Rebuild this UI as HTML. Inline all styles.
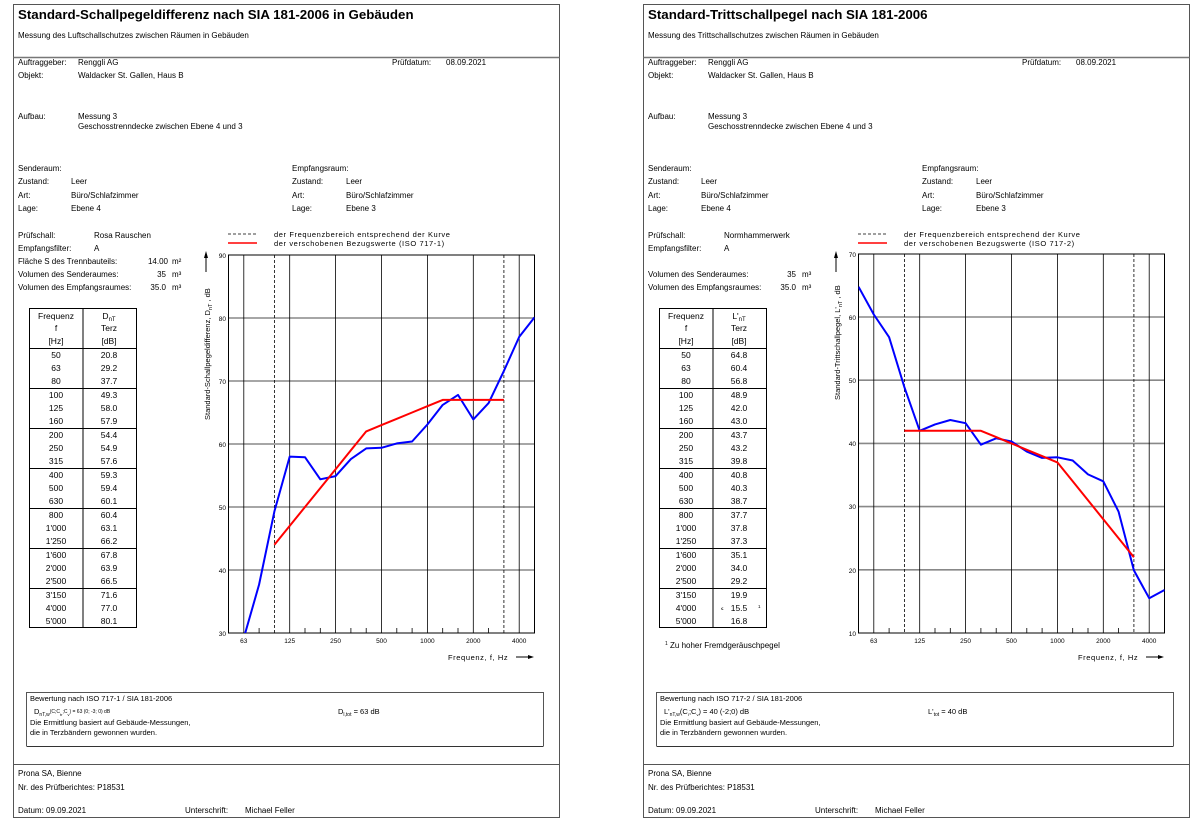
<!DOCTYPE html>
<html><head><meta charset="utf-8"><style>
html,body{margin:0;padding:0;background:#fff}
svg{display:block;font-family:"Liberation Sans",Arial,sans-serif}
text{font-size:8px;fill:#000}
.t{font-size:13.3px;font-weight:bold}
.tk{font-size:6.5px}
.lg{font-size:7.5px;letter-spacing:0.6px}
.tb{font-size:8.5px}
</style></head><body>
<svg width="1200" height="822" viewBox="0 0 1200 822">
<defs>
<clipPath id="cl"><rect x="228.5" y="255" width="306" height="378"/></clipPath>
<clipPath id="cr"><rect x="858.5" y="254" width="306" height="379"/></clipPath>
</defs>

<!-- LEFT PAGE -->
<rect x="13.5" y="4.5" width="546" height="813" fill="none" stroke="#555" stroke-width="1"/>
<line x1="13.5" y1="57.5" x2="559.5" y2="57.5" stroke="#777" stroke-width="1.5"/>
<text x="18" y="19" class="t">Standard-Schallpegeldifferenz nach SIA 181-2006 in Gebäuden</text>
<text x="18" y="38">Messung des Luftschallschutzes zwischen Räumen in Gebäuden</text>
<text x="18" y="65">Auftraggeber:</text><text x="78" y="65">Renggli AG</text>
<text x="392" y="65">Prüfdatum:</text><text x="446" y="65">08.09.2021</text>
<text x="18" y="78">Objekt:</text><text x="78" y="78">Waldacker St. Gallen, Haus B</text>
<text x="18" y="119">Aufbau:</text><text x="78" y="119">Messung 3</text>
<text x="78" y="129">Geschosstrenndecke zwischen Ebene 4 und 3</text>
<text x="18" y="171">Senderaum:</text>
<text x="18" y="184">Zustand:</text><text x="71" y="184">Leer</text>
<text x="18" y="198">Art:</text><text x="71" y="198">Büro/Schlafzimmer</text>
<text x="18" y="211">Lage:</text><text x="71" y="211">Ebene 4</text>
<text x="292" y="171">Empfangsraum:</text>
<text x="292" y="184">Zustand:</text><text x="346" y="184">Leer</text>
<text x="292" y="198">Art:</text><text x="346" y="198">Büro/Schlafzimmer</text>
<text x="292" y="211">Lage:</text><text x="346" y="211">Ebene 3</text>
<text x="18" y="238">Prüfschall:</text><text x="94" y="238">Rosa Rauschen</text>
<text x="18" y="251">Empfangsfilter:</text><text x="94" y="251">A</text>
<text x="18" y="264">Fläche S des Trennbauteils:</text><text x="168" y="264" text-anchor="end">14.00</text><text x="172" y="264">m²</text>
<text x="18" y="277">Volumen des Senderaumes:</text><text x="166" y="277" text-anchor="end">35</text><text x="172" y="277">m³</text>
<text x="18" y="290">Volumen des Empfangsraumes:</text><text x="166" y="290" text-anchor="end">35.0</text><text x="172" y="290">m³</text>

<!-- legend -->
<line x1="228" y1="234" x2="257" y2="234" stroke="#000" stroke-width="0.8" stroke-dasharray="3,2"/>
<line x1="228" y1="243" x2="257" y2="243" stroke="#f00" stroke-width="1.5"/>
<text x="274" y="237" class="lg">der Frequenzbereich entsprechend der Kurve</text>
<text x="274" y="246" class="lg">der verschobenen Bezugswerte (ISO 717-1)</text>

<!-- table left -->
<g stroke="#000" stroke-width="1" fill="none">
<rect x="29.5" y="308.5" width="107" height="319"/>
<line x1="83" y1="308.5" x2="83" y2="627.5"/>
<line x1="29.5" y1="348.5" x2="136.5" y2="348.5"/>
<line x1="29.5" y1="388.5" x2="136.5" y2="388.5"/>
<line x1="29.5" y1="428.5" x2="136.5" y2="428.5"/>
<line x1="29.5" y1="468.5" x2="136.5" y2="468.5"/>
<line x1="29.5" y1="508.5" x2="136.5" y2="508.5"/>
<line x1="29.5" y1="548.5" x2="136.5" y2="548.5"/>
<line x1="29.5" y1="588.5" x2="136.5" y2="588.5"/>
</g>
<g class="tb" text-anchor="middle">
<text x="56" y="319" class="tb">Frequenz</text><text x="56" y="331" class="tb">f</text><text x="56" y="344" class="tb">[Hz]</text>
<text x="109" y="319" class="tb">D<tspan font-size="6" dy="2">nT</tspan></text><text x="109" y="331" class="tb">Terz</text><text x="109" y="344" class="tb">[dB]</text>
</g>
<g text-anchor="middle">
<text x="56" y="358" class="tb">50</text><text x="109" y="358" class="tb">20.8</text>
<text x="56" y="371" class="tb">63</text><text x="109" y="371" class="tb">29.2</text>
<text x="56" y="384" class="tb">80</text><text x="109" y="384" class="tb">37.7</text>
<text x="56" y="398" class="tb">100</text><text x="109" y="398" class="tb">49.3</text>
<text x="56" y="411" class="tb">125</text><text x="109" y="411" class="tb">58.0</text>
<text x="56" y="424" class="tb">160</text><text x="109" y="424" class="tb">57.9</text>
<text x="56" y="438" class="tb">200</text><text x="109" y="438" class="tb">54.4</text>
<text x="56" y="451" class="tb">250</text><text x="109" y="451" class="tb">54.9</text>
<text x="56" y="464" class="tb">315</text><text x="109" y="464" class="tb">57.6</text>
<text x="56" y="478" class="tb">400</text><text x="109" y="478" class="tb">59.3</text>
<text x="56" y="491" class="tb">500</text><text x="109" y="491" class="tb">59.4</text>
<text x="56" y="504" class="tb">630</text><text x="109" y="504" class="tb">60.1</text>
<text x="56" y="518" class="tb">800</text><text x="109" y="518" class="tb">60.4</text>
<text x="56" y="531" class="tb">1'000</text><text x="109" y="531" class="tb">63.1</text>
<text x="56" y="544" class="tb">1'250</text><text x="109" y="544" class="tb">66.2</text>
<text x="56" y="558" class="tb">1'600</text><text x="109" y="558" class="tb">67.8</text>
<text x="56" y="571" class="tb">2'000</text><text x="109" y="571" class="tb">63.9</text>
<text x="56" y="584" class="tb">2'500</text><text x="109" y="584" class="tb">66.5</text>
<text x="56" y="598" class="tb">3'150</text><text x="109" y="598" class="tb">71.6</text>
<text x="56" y="611" class="tb">4'000</text><text x="109" y="611" class="tb">77.0</text>
<text x="56" y="624" class="tb">5'000</text><text x="109" y="624" class="tb">80.1</text>
</g>

<!-- chart left -->
<g stroke="#888" stroke-width="1.6">
<line x1="228.5" y1="570" x2="534.5" y2="570"/>
<line x1="228.5" y1="507" x2="534.5" y2="507"/>
<line x1="228.5" y1="444" x2="534.5" y2="444"/>
<line x1="228.5" y1="381" x2="534.5" y2="381"/>
<line x1="228.5" y1="318" x2="534.5" y2="318"/>
</g>
<g stroke="#000" stroke-width="0.8">
<line x1="243.8" y1="255" x2="243.8" y2="633"/>
<line x1="289.7" y1="255" x2="289.7" y2="633"/>
<line x1="335.6" y1="255" x2="335.6" y2="633"/>
<line x1="381.5" y1="255" x2="381.5" y2="633"/>
<line x1="427.4" y1="255" x2="427.4" y2="633"/>
<line x1="473.3" y1="255" x2="473.3" y2="633"/>
<line x1="519.2" y1="255" x2="519.2" y2="633"/>
<line x1="274.4" y1="255" x2="274.4" y2="633" stroke-dasharray="3,2"/>
<line x1="503.9" y1="255" x2="503.9" y2="633" stroke-dasharray="3,2"/>
<path d="M259.1 633v-5M305 633v-5M320.3 633v-5M350.9 633v-5M366.2 633v-5M396.8 633v-5M412.1 633v-5M442.7 633v-5M458 633v-5M488.6 633v-5M534.5 633v-5"/>
</g>
<rect x="228.5" y="255" width="306" height="378" fill="none" stroke="#000" stroke-width="1"/>
<g clip-path="url(#cl)" fill="none" stroke-linejoin="round">
<polyline stroke="#00f" stroke-width="2" points="228.5,691 243.8,638 259.1,584.5 274.4,511.4 289.7,456.6 305,457.2 320.3,479.3 335.6,476.1 350.9,459.1 366.2,448.4 381.5,447.8 396.8,443.4 412.1,441.5 427.4,424.5 442.7,404.9 458,394.9 473.3,419.4 488.6,403.1 503.9,370.9 519.2,336.9 534.5,317.4"/>
<polyline stroke="#f00" stroke-width="2" points="274.4,544.8 289.7,525.9 305,507 320.3,488.1 335.6,469.2 350.9,450.3 366.2,431.4 381.5,425.1 396.8,418.8 412.1,412.5 427.4,406.2 442.7,399.9 503.9,399.9"/>
</g>
<g class="tk" text-anchor="end">
<text x="226" y="258" class="tk">90</text><text x="226" y="321" class="tk">80</text><text x="226" y="384" class="tk">70</text>
<text x="226" y="447" class="tk">60</text><text x="226" y="510" class="tk">50</text><text x="226" y="573" class="tk">40</text><text x="226" y="636" class="tk">30</text>
</g>
<g text-anchor="middle">
<text x="243.8" y="643" class="tk">63</text><text x="289.7" y="643" class="tk">125</text><text x="335.6" y="643" class="tk">250</text>
<text x="381.5" y="643" class="tk">500</text><text x="427.4" y="643" class="tk">1000</text><text x="473.3" y="643" class="tk">2000</text><text x="519.2" y="643" class="tk">4000</text>
</g>
<text x="448" y="660" class="lg">Frequenz, f, Hz</text>
<line x1="516" y1="657" x2="530" y2="657" stroke="#000"/><path d="M534 657l-6-2v4z"/>
<text transform="translate(210,420) rotate(-90)" style="font-size:7.5px">Standard-Schallpegeldifferenz, D<tspan font-size="5.5" dy="2">nT</tspan><tspan dy="-2"> , dB</tspan></text>
<line x1="206" y1="272" x2="206" y2="256" stroke="#000"/><path d="M206 251l-2 7h4z"/>

<!-- bottom left -->
<path d="M26.5 746V692.5H543.5V746" fill="none" stroke="#555"/>
<line x1="26.5" y1="746.5" x2="543.5" y2="746.5" stroke="#333"/>
<text x="30" y="701" style="font-size:7.5px">Bewertung nach ISO 717-1 / SIA 181-2006</text>
<text x="34" y="714" style="font-size:7.5px">D<tspan font-size="5" dy="2">nT,w</tspan><tspan font-size="5" dy="-3">(C;C</tspan><tspan font-size="4" dy="3">tr</tspan><tspan font-size="5" dy="-3">;C</tspan><tspan font-size="4" dy="3">v</tspan><tspan font-size="5" dy="-3">) = 63 (0; -3; 0) dB</tspan></text>
<text x="30" y="725" style="font-size:7.5px">Die Ermittlung basiert auf Gebäude-Messungen,</text>
<text x="30" y="735" style="font-size:7.5px">die in Terzbändern gewonnen wurden.</text>
<text x="338" y="714" style="font-size:7.5px">D<tspan font-size="5" dy="2">l,tot</tspan><tspan dy="-2"> = 63 dB</tspan></text>
<line x1="13.5" y1="764.5" x2="559.5" y2="764.5" stroke="#555"/>
<text x="18" y="776">Prona SA, Bienne</text>
<text x="18" y="790">Nr. des Prüfberichtes: P18531</text>
<text x="18" y="813">Datum:  09.09.2021</text>
<text x="185" y="813">Unterschrift:</text>
<text x="245" y="813">Michael Feller</text>

<!-- RIGHT PAGE -->
<rect x="643.5" y="4.5" width="546" height="813" fill="none" stroke="#555" stroke-width="1"/>
<line x1="643.5" y1="57.5" x2="1189.5" y2="57.5" stroke="#777" stroke-width="1.5"/>
<text x="648" y="19" class="t">Standard-Trittschallpegel nach SIA 181-2006</text>
<text x="648" y="38">Messung des Trittschallschutzes zwischen Räumen in Gebäuden</text>
<text x="648" y="65">Auftraggeber:</text><text x="708" y="65">Renggli AG</text>
<text x="1022" y="65">Prüfdatum:</text><text x="1076" y="65">08.09.2021</text>
<text x="648" y="78">Objekt:</text><text x="708" y="78">Waldacker St. Gallen, Haus B</text>
<text x="648" y="119">Aufbau:</text><text x="708" y="119">Messung 3</text>
<text x="708" y="129">Geschosstrenndecke zwischen Ebene 4 und 3</text>
<text x="648" y="171">Senderaum:</text>
<text x="648" y="184">Zustand:</text><text x="701" y="184">Leer</text>
<text x="648" y="198">Art:</text><text x="701" y="198">Büro/Schlafzimmer</text>
<text x="648" y="211">Lage:</text><text x="701" y="211">Ebene 4</text>
<text x="922" y="171">Empfangsraum:</text>
<text x="922" y="184">Zustand:</text><text x="976" y="184">Leer</text>
<text x="922" y="198">Art:</text><text x="976" y="198">Büro/Schlafzimmer</text>
<text x="922" y="211">Lage:</text><text x="976" y="211">Ebene 3</text>
<text x="648" y="238">Prüfschall:</text><text x="724" y="238">Normhammerwerk</text>
<text x="648" y="251">Empfangsfilter:</text><text x="724" y="251">A</text>
<text x="648" y="277">Volumen des Senderaumes:</text><text x="796" y="277" text-anchor="end">35</text><text x="802" y="277">m³</text>
<text x="648" y="290">Volumen des Empfangsraumes:</text><text x="796" y="290" text-anchor="end">35.0</text><text x="802" y="290">m³</text>

<line x1="858" y1="234" x2="887" y2="234" stroke="#000" stroke-width="0.8" stroke-dasharray="3,2"/>
<line x1="858" y1="243" x2="887" y2="243" stroke="#f00" stroke-width="1.5"/>
<text x="904" y="237" class="lg">der Frequenzbereich entsprechend der Kurve</text>
<text x="904" y="246" class="lg">der verschobenen Bezugswerte (ISO 717-2)</text>

<g stroke="#000" stroke-width="1" fill="none">
<rect x="659.5" y="308.5" width="107" height="319"/>
<line x1="713" y1="308.5" x2="713" y2="627.5"/>
<line x1="659.5" y1="348.5" x2="766.5" y2="348.5"/>
<line x1="659.5" y1="388.5" x2="766.5" y2="388.5"/>
<line x1="659.5" y1="428.5" x2="766.5" y2="428.5"/>
<line x1="659.5" y1="468.5" x2="766.5" y2="468.5"/>
<line x1="659.5" y1="508.5" x2="766.5" y2="508.5"/>
<line x1="659.5" y1="548.5" x2="766.5" y2="548.5"/>
<line x1="659.5" y1="588.5" x2="766.5" y2="588.5"/>
</g>
<g text-anchor="middle">
<text x="686" y="319" class="tb">Frequenz</text><text x="686" y="331" class="tb">f</text><text x="686" y="344" class="tb">[Hz]</text>
<text x="739" y="319" class="tb">L'<tspan font-size="6" dy="2">nT</tspan></text><text x="739" y="331" class="tb">Terz</text><text x="739" y="344" class="tb">[dB]</text>
<text x="686" y="358" class="tb">50</text><text x="739" y="358" class="tb">64.8</text>
<text x="686" y="371" class="tb">63</text><text x="739" y="371" class="tb">60.4</text>
<text x="686" y="384" class="tb">80</text><text x="739" y="384" class="tb">56.8</text>
<text x="686" y="398" class="tb">100</text><text x="739" y="398" class="tb">48.9</text>
<text x="686" y="411" class="tb">125</text><text x="739" y="411" class="tb">42.0</text>
<text x="686" y="424" class="tb">160</text><text x="739" y="424" class="tb">43.0</text>
<text x="686" y="438" class="tb">200</text><text x="739" y="438" class="tb">43.7</text>
<text x="686" y="451" class="tb">250</text><text x="739" y="451" class="tb">43.2</text>
<text x="686" y="464" class="tb">315</text><text x="739" y="464" class="tb">39.8</text>
<text x="686" y="478" class="tb">400</text><text x="739" y="478" class="tb">40.8</text>
<text x="686" y="491" class="tb">500</text><text x="739" y="491" class="tb">40.3</text>
<text x="686" y="504" class="tb">630</text><text x="739" y="504" class="tb">38.7</text>
<text x="686" y="518" class="tb">800</text><text x="739" y="518" class="tb">37.7</text>
<text x="686" y="531" class="tb">1'000</text><text x="739" y="531" class="tb">37.8</text>
<text x="686" y="544" class="tb">1'250</text><text x="739" y="544" class="tb">37.3</text>
<text x="686" y="558" class="tb">1'600</text><text x="739" y="558" class="tb">35.1</text>
<text x="686" y="571" class="tb">2'000</text><text x="739" y="571" class="tb">34.0</text>
<text x="686" y="584" class="tb">2'500</text><text x="739" y="584" class="tb">29.2</text>
<text x="686" y="598" class="tb">3'150</text><text x="739" y="598" class="tb">19.9</text>
<text x="686" y="611" class="tb">4'000</text><text x="739" y="611" class="tb">15.5</text>
<text x="686" y="624" class="tb">5'000</text><text x="739" y="624" class="tb">16.8</text>
</g>
<text x="721" y="610" style="font-size:4.5px">≤</text><text x="758" y="608" style="font-size:4.5px">1</text>
<text x="665" y="648"><tspan font-size="5" dy="-3">1</tspan><tspan dy="3"> Zu hoher Fremdgeräuschpegel</tspan></text>

<g stroke="#888" stroke-width="1.6">
<line x1="858.5" y1="569.8" x2="1164.5" y2="569.8"/>
<line x1="858.5" y1="506.6" x2="1164.5" y2="506.6"/>
<line x1="858.5" y1="443.4" x2="1164.5" y2="443.4"/>
<line x1="858.5" y1="380.2" x2="1164.5" y2="380.2"/>
<line x1="858.5" y1="317" x2="1164.5" y2="317"/>
</g>
<g stroke="#000" stroke-width="0.8">
<line x1="873.8" y1="254" x2="873.8" y2="633"/>
<line x1="919.7" y1="254" x2="919.7" y2="633"/>
<line x1="965.6" y1="254" x2="965.6" y2="633"/>
<line x1="1011.5" y1="254" x2="1011.5" y2="633"/>
<line x1="1057.4" y1="254" x2="1057.4" y2="633"/>
<line x1="1103.3" y1="254" x2="1103.3" y2="633"/>
<line x1="1149.2" y1="254" x2="1149.2" y2="633"/>
<line x1="904.4" y1="254" x2="904.4" y2="633" stroke-dasharray="3,2"/>
<line x1="1133.9" y1="254" x2="1133.9" y2="633" stroke-dasharray="3,2"/>
<path d="M889.1 633v-5M935 633v-5M950.3 633v-5M980.9 633v-5M996.2 633v-5M1026.8 633v-5M1042.1 633v-5M1072.7 633v-5M1088 633v-5M1118.6 633v-5"/>
</g>
<rect x="858.5" y="254" width="306" height="379" fill="none" stroke="#000" stroke-width="1"/>
<g clip-path="url(#cr)" fill="none" stroke-linejoin="round">
<polyline stroke="#00f" stroke-width="2" points="858.5,286.7 873.8,314.5 889.1,337.2 904.4,387.2 919.7,430.8 935,424.4 950.3,420 965.6,423.2 980.9,444.7 996.2,438.3 1011.5,441.5 1026.8,451.6 1042.1,457.9 1057.4,457.3 1072.7,460.5 1088,474.4 1103.3,481.3 1118.6,511.7 1133.9,570.4 1149.2,598.2 1164.5,590"/>
<polyline stroke="#f00" stroke-width="2" points="904.4,430.8 980.9,430.8 996.2,437.1 1011.5,443.4 1026.8,449.8 1042.1,456.1 1057.4,462.4 1072.7,481.3 1088,500.3 1103.3,519.2 1118.6,538.2 1133.9,557.2"/>
</g>
<g text-anchor="end">
<text x="856" y="257" class="tk">70</text><text x="856" y="320" class="tk">60</text><text x="856" y="383" class="tk">50</text>
<text x="856" y="446" class="tk">40</text><text x="856" y="509" class="tk">30</text><text x="856" y="573" class="tk">20</text><text x="856" y="636" class="tk">10</text>
</g>
<g text-anchor="middle">
<text x="873.8" y="643" class="tk">63</text><text x="919.7" y="643" class="tk">125</text><text x="965.6" y="643" class="tk">250</text>
<text x="1011.5" y="643" class="tk">500</text><text x="1057.4" y="643" class="tk">1000</text><text x="1103.3" y="643" class="tk">2000</text><text x="1149.2" y="643" class="tk">4000</text>
</g>
<text x="1078" y="660" class="lg">Frequenz, f, Hz</text>
<line x1="1146" y1="657" x2="1160" y2="657" stroke="#000"/><path d="M1164 657l-6-2v4z"/>
<text transform="translate(840,400) rotate(-90)" style="font-size:7.5px">Standard-Trittschallpegel, L'<tspan font-size="5.5" dy="2">nT</tspan><tspan dy="-2"> , dB</tspan></text>
<line x1="836" y1="272" x2="836" y2="256" stroke="#000"/><path d="M836 251l-2 7h4z"/>

<path d="M656.5 746V692.5H1173.5V746" fill="none" stroke="#555"/>
<line x1="656.5" y1="746.5" x2="1173.5" y2="746.5" stroke="#333"/>
<text x="660" y="701" style="font-size:7.5px">Bewertung nach ISO 717-2 / SIA 181-2006</text>
<text x="664" y="714" style="font-size:7.5px">L'<tspan font-size="5" dy="2">nT,w</tspan><tspan dy="-2">(C</tspan><tspan font-size="4" dy="2">I</tspan><tspan dy="-2">;C</tspan><tspan font-size="4" dy="2">v</tspan><tspan dy="-2">) = 40 (-2;0) dB</tspan></text>
<text x="660" y="725" style="font-size:7.5px">Die Ermittlung basiert auf Gebäude-Messungen,</text>
<text x="660" y="735" style="font-size:7.5px">die in Terzbändern gewonnen wurden.</text>
<text x="928" y="714" style="font-size:7.5px">L'<tspan font-size="5" dy="2">tot</tspan><tspan dy="-2"> = 40 dB</tspan></text>
<line x1="643.5" y1="764.5" x2="1189.5" y2="764.5" stroke="#555"/>
<text x="648" y="776">Prona SA, Bienne</text>
<text x="648" y="790">Nr. des Prüfberichtes: P18531</text>
<text x="648" y="813">Datum:  09.09.2021</text>
<text x="815" y="813">Unterschrift:</text>
<text x="875" y="813">Michael Feller</text>
</svg>
</body></html>
